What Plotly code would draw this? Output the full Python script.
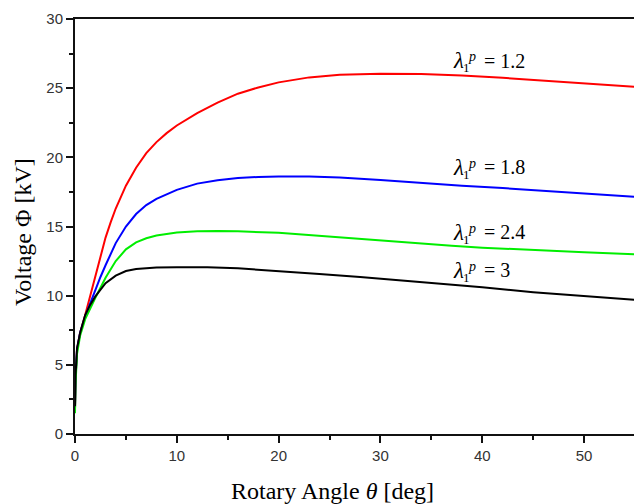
import plotly.graph_objects as go

# Rotary angle (deg) and voltage (kV) for each pre-stretch ratio
lam_labels = ["1.2", "1.8", "2.4", "3"]

x_12 = [0, 0.05, 0.2, 0.5, 1.0, 1.5, 2.0, 2.5, 3.0, 3.5, 4.0, 5.0, 6.0, 7.0, 8.0, 9.0, 10, 12, 14, 16, 18, 20, 23, 26, 30, 34, 38, 42, 46, 50, 55]
v_12 = [1.8, 4.0, 6.1, 7.3, 8.6, 10.05, 11.5, 12.9, 14.2, 15.3, 16.3, 17.95, 19.25, 20.3, 21.1, 21.75, 22.3, 23.2, 23.95, 24.6, 25.05, 25.42, 25.78, 25.97, 26.05, 26.03, 25.92, 25.75, 25.56, 25.36, 25.1]

x_18 = [0, 0.05, 0.2, 0.5, 1.0, 1.5, 2.0, 2.5, 3.0, 3.5, 4.0, 5.0, 6.0, 7.0, 8.0, 10, 12, 14, 16, 18, 20, 23, 26, 30, 34, 38, 42, 46, 50, 55]
v_18 = [1.8, 4.0, 6.1, 7.3, 8.5, 9.5, 10.45, 11.35, 12.2, 13.05, 13.8, 15.0, 15.9, 16.55, 17.0, 17.65, 18.1, 18.35, 18.5, 18.58, 18.62, 18.62, 18.55, 18.37, 18.15, 17.95, 17.78, 17.6, 17.42, 17.15]

x_24 = [0, 0.05, 0.2, 0.5, 1.0, 1.5, 2.0, 3.0, 4.0, 5.0, 6.0, 7.0, 8.0, 10, 12, 14, 16, 20, 23, 26.7, 30, 33, 37, 40, 46, 50, 55]
v_24 = [1.5, 3.6, 5.8, 7.1, 8.3, 9.1, 9.85, 11.3, 12.5, 13.35, 13.85, 14.15, 14.35, 14.57, 14.65, 14.67, 14.65, 14.55, 14.38, 14.15, 13.97, 13.8, 13.6, 13.47, 13.25, 13.13, 13.0]

x_30 = [0, 0.05, 0.2, 0.5, 1.0, 1.5, 2.0, 3.0, 4.0, 5.0, 6.0, 7.0, 8.0, 10, 13, 16, 20, 24, 28, 33, 37, 40, 45, 50, 55]
v_30 = [2.0, 4.2, 6.2, 7.3, 8.6, 9.35, 9.95, 10.9, 11.45, 11.78, 11.93, 12.0, 12.03, 12.05, 12.05, 11.98, 11.8, 11.57, 11.35, 11.05, 10.82, 10.6, 10.25, 9.95, 9.7]

series_x = [x_12, x_18, x_24, x_30]
series_v = [v_12, v_18, v_24, v_30]
colors = ["#ff0000", "#0000ff", "#00ee00", "#000000"]

# label anchor (left edge of lambda, vertical centre) in data units
label_x = [36.9, 36.9, 36.9, 36.9]
label_y = [27.0, 19.3, 14.6, 11.85]

fig = go.Figure()
for xs, vs, c, name in zip(series_x, series_v, colors, lam_labels):
    fig.add_trace(go.Scatter(
        x=xs, y=vs, mode="lines", name=name,
        line=dict(color=c, width=2),
        showlegend=False,
    ))

serif = "Liberation Serif, Times New Roman, serif"
ann = []
for lx, ly, lab in zip(label_x, label_y, lam_labels):
    ann.append(dict(x=lx, y=ly, xref="x", yref="y", text="<i>λ</i>", showarrow=False,
                    xanchor="left", yanchor="middle", font=dict(family=serif, size=23, color="black")))
    ann.append(dict(x=lx, y=ly, xref="x", yref="y", text="1", showarrow=False,
                    xanchor="left", yanchor="middle", xshift=10, yshift=-7,
                    font=dict(family=serif, size=13, color="black")))
    ann.append(dict(x=lx, y=ly, xref="x", yref="y", text="<i>p</i>", showarrow=False,
                    xanchor="left", yanchor="middle", xshift=15, yshift=4,
                    font=dict(family=serif, size=14, color="black")))
    ann.append(dict(x=lx, y=ly, xref="x", yref="y", text="= " + lab, showarrow=False,
                    xanchor="left", yanchor="middle", xshift=31,
                    font=dict(family=serif, size=20, color="black")))

# axis titles
ann.append(dict(x=0.4615, y=-0.137, xref="paper", yref="paper",
                text="Rotary Angle <i>θ</i> [deg]", showarrow=False,
                xanchor="center", yanchor="middle",
                font=dict(family=serif, size=24, color="black")))
ann.append(dict(x=-0.093, y=0.487, xref="paper", yref="paper",
                text="Voltage Φ [kV]", showarrow=False, textangle=-90,
                xanchor="center", yanchor="middle",
                font=dict(family=serif, size=24, color="black")))

tickfont = dict(family="Liberation Sans, Arial, sans-serif", size=15, color="#333333")

fig.update_layout(
    width=634, height=504,
    margin=dict(l=75, r=0, t=19, b=70),
    paper_bgcolor="white", plot_bgcolor="white",
    annotations=ann,
    xaxis=dict(range=[0, 54.9], dtick=10, tick0=0, ticks="outside", ticklen=7, tickwidth=2,
               tickcolor="#111", showline=True, linewidth=2, linecolor="#111", mirror=True,
               showgrid=False, zeroline=False, tickfont=tickfont,
               minor=dict(dtick=5, ticks="outside", ticklen=4, tickwidth=2, tickcolor="#111")),
    yaxis=dict(range=[0, 30], dtick=5, tick0=0, ticks="outside", ticklen=7, tickwidth=2,
               tickcolor="#111", showline=True, linewidth=2, linecolor="#111",
               showgrid=False, zeroline=False, tickfont=tickfont,
               minor=dict(dtick=2.5, ticks="outside", ticklen=4, tickwidth=2, tickcolor="#111")),
)

fig.write_html("out.html")
